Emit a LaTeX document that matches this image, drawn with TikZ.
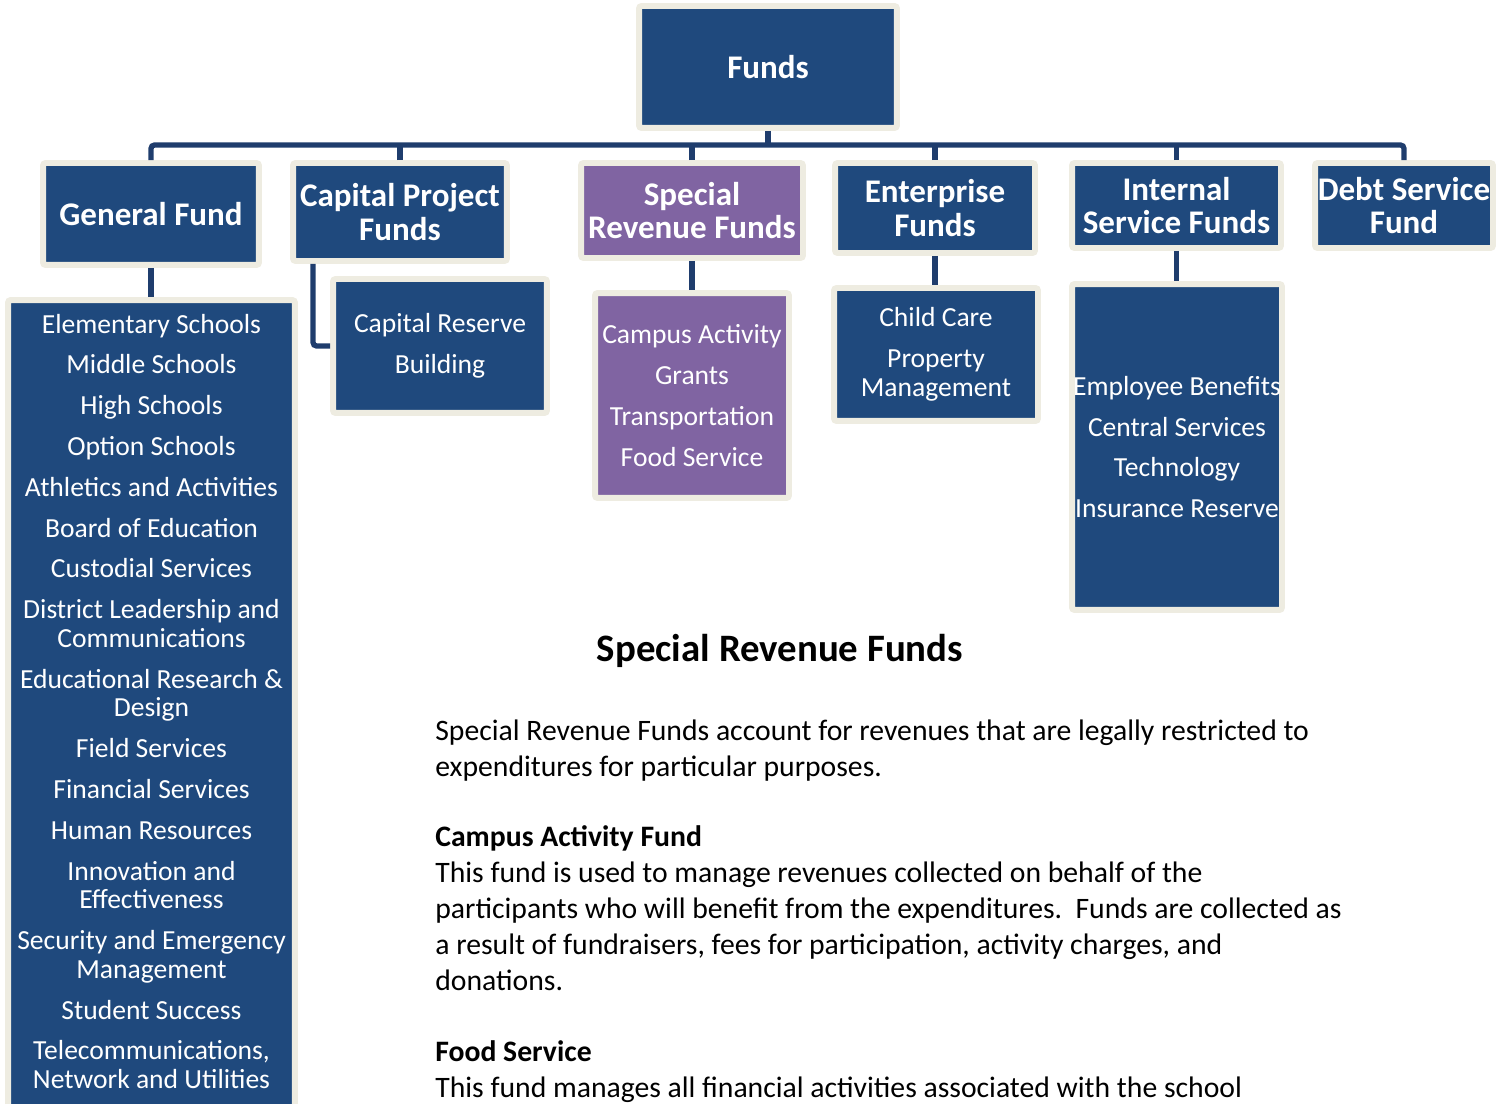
\documentclass[tikz,border=0pt]{standalone}
\usepackage{fontspec}
\setmainfont{Carlito}
\usetikzlibrary{positioning,calc}
\definecolor{fundblue}{HTML}{1F497D}
\definecolor{fundpurple}{HTML}{8064A2}
\definecolor{rim}{HTML}{EEECE1}
\definecolor{linkblue}{HTML}{1F3D6D}
\newcommand{\fundgap}{6.8pt}

\begin{document}
\begin{tikzpicture}[x=0.02cm,y=-0.02cm,
  fund/.style={fill=fundblue,draw=rim,line width=3.4pt,rounded corners=1.5pt,text=white,
               align=center,inner sep=0pt,font=\fontsize{18.8}{19.3}\selectfont\bfseries},
  sub/.style={fund,font=\fontsize{15.7}{16.4}\selectfont},
  items/.style={text=white,align=center,inner sep=0pt,font=\fontsize{15.7}{16.4}\selectfont},
  purp/.style={fill=fundpurple},
  link/.style={draw=linkblue,line width=3pt}]
\useasboundingbox (0,0) rectangle (1504,1104);
% top row
\node[fund,minimum width=5.16cm,minimum height=2.44cm] (funds) at (768,67) {Funds};
\node[fund,minimum width=4.32cm,minimum height=2.04cm] (general) at (151,214) {General Fund};
\node[fund,minimum width=4.28cm,minimum height=1.96cm] (capital) at (400,212) {Capital Project\\Funds};
\node[fund,purp,minimum width=4.44cm,minimum height=1.90cm] (special) at (692,210.5) {Special\\Revenue Funds};
\node[fund,minimum width=4.0cm,minimum height=1.8cm] (enterprise) at (935,208) {Enterprise\\Funds};
\node[fund,minimum width=4.18cm,minimum height=1.70cm] (internal) at (1176.5,205.5) {Internal\\Service Funds};
\node[fund,minimum width=3.56cm,minimum height=1.70cm] (debt) at (1404,205.5) {Debt Service\\Fund};
% second row
\node[fund,minimum width=5.74cm,minimum height=16.8cm] (genlist) at (151.5,720) {};
\node[items] (genitems) at (151.5,701.5)
  {Elementary Schools\\[\fundgap]Middle Schools\\[\fundgap]High Schools\\[\fundgap]Option Schools\\[\fundgap]
   Athletics and Activities\\[\fundgap]Board of Education\\[\fundgap]Custodial Services\\[\fundgap]
   District Leadership and\\Communications\\[\fundgap]Educational Research \&\\Design\\[\fundgap]
   Field Services\\[\fundgap]Financial Services\\[\fundgap]Human Resources\\[\fundgap]
   Innovation and\\Effectiveness\\[\fundgap]Security and Emergency\\Management\\[\fundgap]
   Student Success\\[\fundgap]Telecommunications,\\Network and Utilities};
\node[sub,minimum width=4.28cm,minimum height=2.68cm] (reserve) at (440,346) {Capital Reserve\\[\fundgap]Building};
\node[sub,purp,minimum width=3.88cm,minimum height=4.10cm] (campus) at (692,395.5)
  {Campus Activity\\[\fundgap]Grants\\[\fundgap]Transportation\\[\fundgap]Food Service};
\node[sub,minimum width=4.08cm,minimum height=2.66cm] (childcare) at (936,354.5)
  {Child Care\\[\fundgap]Property\\Management};
\node[sub,minimum width=4.20cm,minimum height=6.52cm] (employee) at (1177,447)
  {Employee Benefits\\[\fundgap]Central Services\\[\fundgap]Technology\\[\fundgap]Insurance Reserve};
% connectors
\coordinate (bar) at (768,145);
\draw[link,rounded corners=2pt] (general.north) |- (bar) -| (debt.north);
\draw[link] (funds.south) -- (bar);
\foreach \f in {capital,special,enterprise,internal}{\draw[link] (\f.north) -- (\f.north |- bar);}
\foreach \u/\v in {general/genlist,special/campus,enterprise/childcare,internal/employee}
  {\draw[link] (\u.south) -- (\u.south |- \v.north);}
\coordinate (capdrop) at ($(capital.south west)+(23,0)$);
\draw[link,rounded corners=2pt] (capdrop) |- (reserve.west);
% notes
\node[font=\fontsize{22.1}{26}\selectfont\bfseries] (title) at (780,651) {Special Revenue Funds};
\node[anchor=north west,align=left,inner sep=0pt,font=\fontsize{16.9}{20.5}\selectfont] (notes) at (435,720)
  {Special Revenue Funds account for revenues that are legally restricted to\\
   expenditures for particular purposes.\\[19.3pt]
   \textbf{Campus Activity Fund}\\
   This fund is used to manage revenues collected on behalf of the\\
   participants who will benefit from the expenditures.\ \ Funds are collected as\\
   a result of fundraisers, fees for participation, activity charges, and\\
   donations.\\[19.8pt]
   \textbf{Food Service}\\
   This fund manages all financial activities associated with the school};
\end{tikzpicture}
\end{document}
